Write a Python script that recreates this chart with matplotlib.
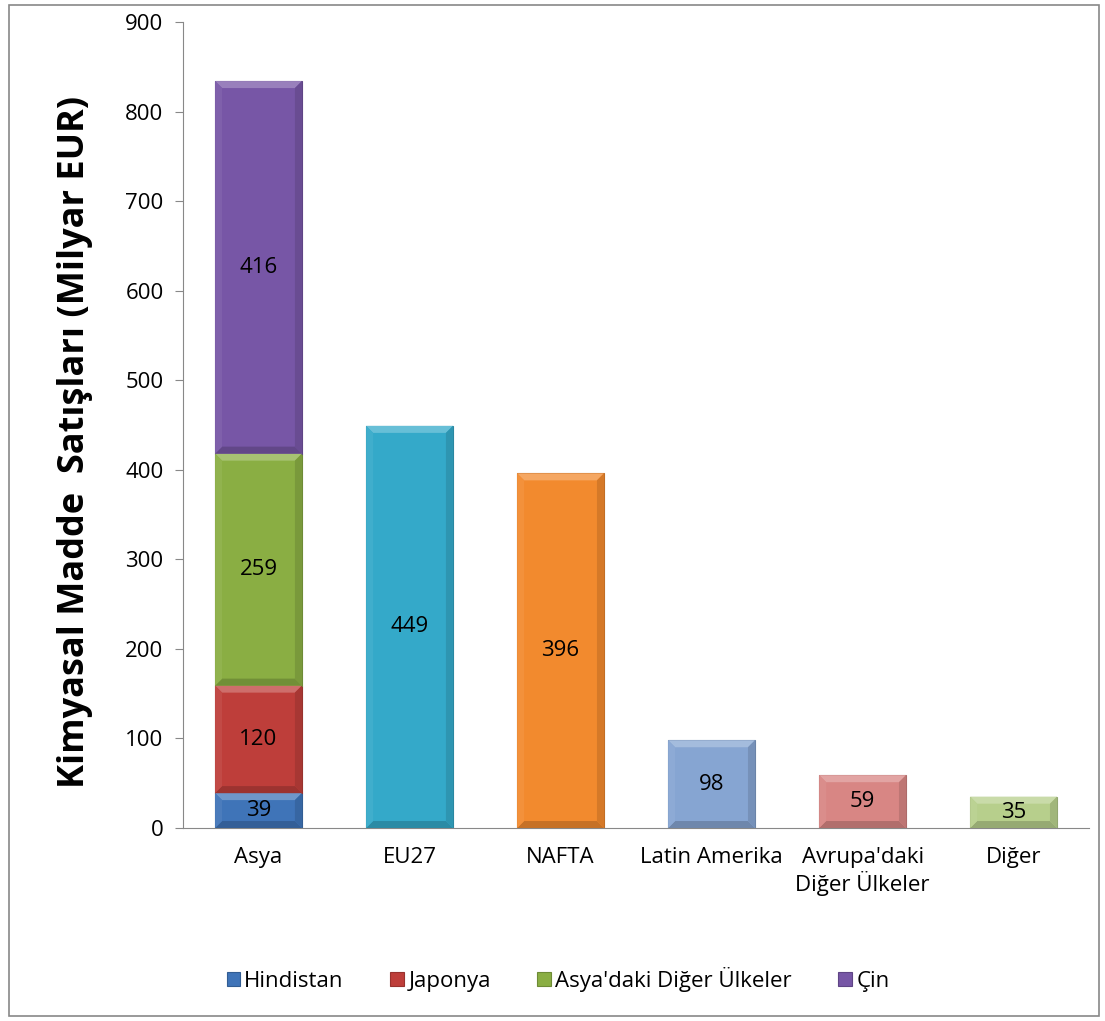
import matplotlib
matplotlib.use("Agg")
import matplotlib.pyplot as plt
import matplotlib.colors as mcolors
from matplotlib.patches import Polygon, Rectangle
import numpy as np

plt.rcParams['font.family'] = ['Open Sans', 'DejaVu Sans']

categories = ["Asya", "EU27", "NAFTA", "Latin Amerika", "Avrupa'daki\nDiğer Ülkeler", "Diğer"]
asia_series = ["Hindistan", "Japonya", "Asya'daki Diğer Ülkeler", "Çin"]
asia_values = [39, 120, 259, 416]
asia_colors = ["#3F74B8", "#BE3E3A", "#8AAE43", "#7756A6"]
other_values = [449, 396, 98, 59, 35]
other_colors = ["#34A9C9", "#F28A2E", "#86A5D2", "#D88684", "#B7CF8C"]
yticks = [0, 100, 200, 300, 400, 500, 600, 700, 800, 900]
ylabel = "Kimyasal Madde  Satışları (Milyar EUR)"

fig = plt.figure(figsize=(11.05, 10.21), dpi=100)
ax = fig.add_axes([0.1656, 0.189, 0.82, 0.7895])

x = np.arange(len(categories))
width = 0.575
bars = []
bottom = 0
for val, col, name in zip(asia_values, asia_colors, asia_series):
    b = ax.bar(x[0], val, width, bottom=bottom, color=col, label=name,
               edgecolor=mcolors.to_hex(np.array(mcolors.to_rgb(col)) * 0.8), linewidth=0.8, zorder=2)
    bars.append((b[0], col, val))
    bottom += val
for xi, val, col in zip(x[1:], other_values, other_colors):
    b = ax.bar(xi, val, width, color=col,
               edgecolor=mcolors.to_hex(np.array(mcolors.to_rgb(col)) * 0.8), linewidth=0.8, zorder=2)
    bars.append((b[0], col, val))

ax.set_xlim(-0.5, len(categories) - 0.5)
ax.set_ylim(0, 900)
ax.set_yticks(yticks)
ax.set_xticks(x)
ax.set_xticklabels(categories, fontsize=16, linespacing=1.15)
ax.tick_params(axis='y', labelsize=16, length=6, color='#888888', pad=8)
ax.tick_params(axis='x', length=0, pad=14)
for s in ['top', 'right']:
    ax.spines[s].set_visible(False)
for s in ['left', 'bottom']:
    ax.spines[s].set_color('#888888')
ax.set_ylabel(ylabel, fontsize=26, fontweight='bold')
ax.yaxis.label.set_va('center')
ax.yaxis.set_label_coords(-0.119, 0.479)

fig.canvas.draw()
inv = ax.transData.inverted()

def lighten(c, f):
    c = np.array(mcolors.to_rgb(c))
    return tuple(c + (1 - c) * f)

def darken(c, f):
    return tuple(np.array(mcolors.to_rgb(c)) * (1 - f))

bev = 7  # pixels
for rect, col, val in bars:
    x0, y0 = rect.get_x(), rect.get_y()
    w, h = rect.get_width(), rect.get_height()
    p0 = ax.transData.transform((x0, y0))
    p1 = ax.transData.transform((x0 + w, y0 + h))
    b = min(bev, (p1[1] - p0[1]) / 3.0)
    d = inv.transform((p0[0] + b, p0[1] + b)) - np.array([x0, y0])
    dx, dy = d
    X0, X1, Y0, Y1 = x0, x0 + w, y0, y0 + h
    polys = [
        ([(X0, Y1), (X1, Y1), (X1 - dx, Y1 - dy), (X0 + dx, Y1 - dy)], lighten(col, 0.25)),
        ([(X0, Y0), (X1, Y0), (X1 - dx, Y0 + dy), (X0 + dx, Y0 + dy)], darken(col, 0.18)),
        ([(X0, Y0), (X0, Y1), (X0 + dx, Y1 - dy), (X0 + dx, Y0 + dy)], lighten(col, 0.06)),
        ([(X1, Y0), (X1, Y1), (X1 - dx, Y1 - dy), (X1 - dx, Y0 + dy)], darken(col, 0.12)),
    ]
    for pts, c in polys:
        ax.add_patch(Polygon(pts, closed=True, facecolor=c, edgecolor='none', zorder=3))
    ax.text(x0 + w / 2, y0 + h / 2, str(val), ha='center', va='center', fontsize=16, color='black', zorder=4)

leg = fig.legend(loc='center', bbox_to_anchor=(0.505, 0.041), ncol=4, frameon=False,
                 fontsize=16, handlelength=0.6, handleheight=0.6, handletextpad=0.2, columnspacing=2.1)

fig.patches.append(Rectangle((0.008, 0.005), 0.987, 0.99, transform=fig.transFigure,
                             fill=False, edgecolor='#888888', linewidth=1.2))

fig.savefig("out.png", dpi=100)
